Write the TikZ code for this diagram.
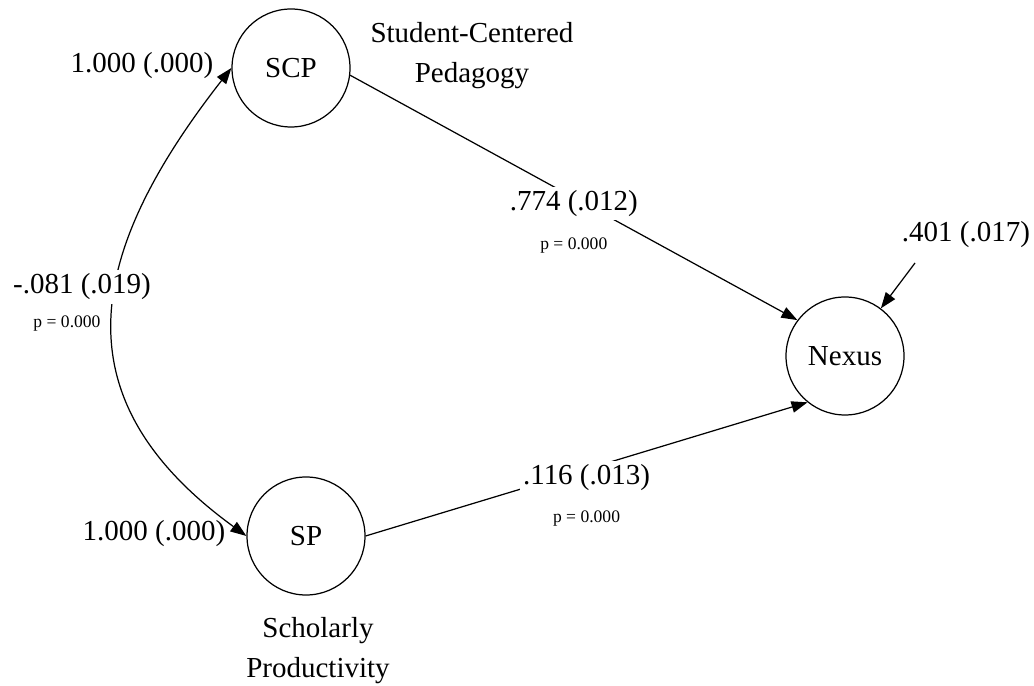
\documentclass[tikz,border=0pt]{standalone}
\usepackage{fontspec}
\setmainfont{Liberation Serif}
\usetikzlibrary{positioning,arrows.meta}

\begin{document}
\begin{tikzpicture}[
        font=\fontsize{16.5}{22.8}\selectfont,
        >={Triangle[length=3.2mm,width=2.3mm]},
        latent/.style={circle,draw,line width=0.7pt,minimum size=2.36cm,inner sep=0pt},
        arr/.style={->,line width=0.7pt},
        coef/.style={fill=white,inner sep=2pt},
        pval/.style={font=\fontsize{10}{12}\selectfont,inner sep=1pt},
        lbl/.style={align=center}
    ]
        \useasboundingbox (0,0) rectangle (20.68,13.72);

        \node[latent] (SCP) at (5.82,12.36) {SCP};
        \node[latent] (SP) at (6.12,3.00) {SP};
        \node[latent] (Nexus) at (16.90,6.60) {Nexus};

        \node[lbl] (SCPname) at (9.44,12.61) {Student-Centered\\Pedagogy};
        \node[lbl] (SPname) at (6.36,0.71) {Scholarly\\Productivity};

        \node (SCPvar) at (2.84,12.40) {1.000 (.000)};
        \node (SPvar) at (3.08,3.05) {1.000 (.000)};
        \node (res) at (19.32,9.02) {.401 (.017)};
        \coordinate (e) at (18.30,8.46);

        \draw[arr] (SCP.-7) -- node[coef,yshift=-0.12cm] (b1) {.774 (.012)} (Nexus.143);
        \draw[arr] (SP.east) -- node[coef,yshift=-0.17cm] (b2) {.116 (.013)} (Nexus.231);
        \draw[arr,<->] (SCP.west) to[out=232,in=144,looseness=1.28] (SP.west);
        \draw[arr] (e) -- (Nexus);

        \node[coef] (r) at (1.64,7.98) {-.081 (.019)};
        \node[pval,below=0.30cm of b1] (p1) {p = 0.000};
        \node[pval,below=0.27cm of b2] (p2) {p = 0.000};
        \node[pval,below=0.19cm of r,xshift=-0.3cm] (p3) {p = 0.000};
    \end{tikzpicture}
\end{document}
